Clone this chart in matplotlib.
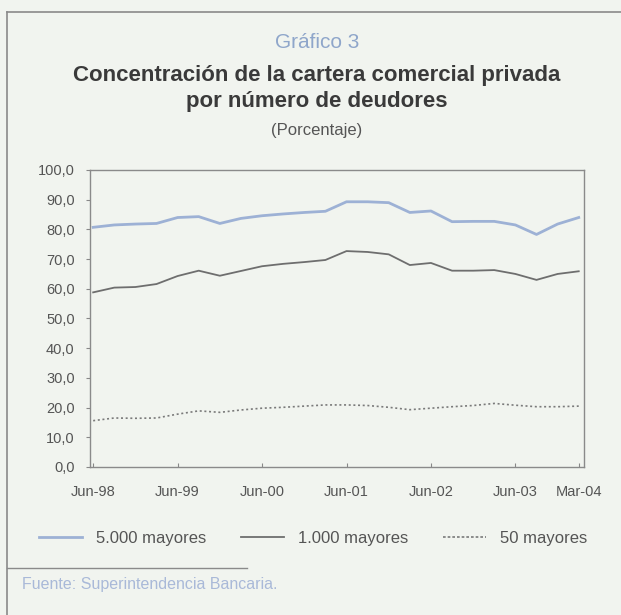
import matplotlib
matplotlib.use("Agg")
import matplotlib.pyplot as plt
from matplotlib.lines import Line2D

# ---- data (quarterly, Jun-98 .. Mar-04) ----
periods = ["Jun-98", "Sep-98", "Dec-98", "Mar-99", "Jun-99", "Sep-99", "Dec-99", "Mar-00",
           "Jun-00", "Sep-00", "Dec-00", "Mar-01", "Jun-01", "Sep-01", "Dec-01", "Mar-02",
           "Jun-02", "Sep-02", "Dec-02", "Mar-03", "Jun-03", "Sep-03", "Dec-03", "Mar-04"]
may_5000 = [80.7, 81.5, 81.8, 82.0, 84.0, 84.3, 82.0, 83.7, 84.6, 85.2, 85.7, 86.1,
            89.3, 89.3, 89.0, 85.7, 86.2, 82.6, 82.7, 82.7, 81.5, 78.3, 81.8, 84.0]
may_1000 = [58.8, 60.4, 60.6, 61.6, 64.3, 66.1, 64.4, 66.0, 67.6, 68.4, 69.0, 69.7,
            72.7, 72.4, 71.6, 68.0, 68.7, 66.1, 66.1, 66.3, 65.0, 63.0, 65.0, 65.9]
may_50 = [15.6, 16.5, 16.4, 16.5, 17.8, 18.9, 18.4, 19.2, 19.8, 20.1, 20.5, 20.9,
          20.9, 20.7, 20.1, 19.3, 19.8, 20.3, 20.7, 21.4, 20.8, 20.3, 20.3, 20.5]
tick_labels = ["Jun-98", "Jun-99", "Jun-00", "Jun-01", "Jun-02", "Jun-03", "Mar-04"]
series_names = ["5.000 mayores", "1.000 mayores", "50 mayores"]

W, H = 621, 615
BG = "#f1f4ef"
regular = ["Liberation Sans", "DejaVu Sans"]

fig = plt.figure(figsize=(W / 100, H / 100), dpi=100, facecolor=BG)

def fx(px):
    return px / W

def fy(py):
    return 1 - py / H

ax = fig.add_axes([fx(90), fy(467), fx(584) - fx(90), fy(170) - fy(467)])
ax.set_facecolor(BG)

x = list(range(len(periods)))
ax.plot(x, may_5000, color="#9db1d5", lw=2.0, solid_joinstyle="round")
ax.plot(x, may_1000, color="#6e6e6e", lw=1.3)
ax.plot(x, may_50, color="#7a7a7a", lw=1.2, linestyle=(0, (1.2, 1.6)))

ax.set_ylim(0, 100)
ax.set_xlim(-0.15, len(periods) - 1 + 0.25)
ax.set_yticks(range(0, 101, 10))
ax.set_yticklabels([f"{v},0" for v in range(0, 101, 10)], family=regular, fontsize=10.5, color="#555555")
tick_pos = [periods.index(t) for t in tick_labels]
ax.set_xticks(tick_pos)
ax.set_xticklabels(tick_labels, family=regular, fontsize=10.5, color="#555555")
ax.tick_params(axis="y", direction="out", length=3, pad=8, color="#888888", width=0.8)
ax.tick_params(axis="x", direction="in", length=3, pad=13, color="#888888", width=0.8)
for s in ax.spines.values():
    s.set_color("#8a8a8a")
    s.set_linewidth(1.0)

# titles
fig.text(0.51, fy(43), "Gráfico 3", ha="center", va="center", family=regular,
         fontsize=15, color="#8fa6ca")
fig.text(0.51, fy(76), "Concentración de la cartera comercial privada",
         ha="center", va="center", family=regular, fontsize=16, fontweight="bold",
         color="#3a3a3a")
fig.text(0.51, fy(101), "por número de deudores",
         ha="center", va="center", family=regular, fontsize=16, fontweight="bold",
         color="#3a3a3a")
fig.text(0.51, fy(130), "(Porcentaje)", ha="center", va="center", family=regular,
         fontsize=12, color="#555555")

# legend
handles = [Line2D([], [], color="#9db1d5", lw=2.0),
           Line2D([], [], color="#6e6e6e", lw=1.3),
           Line2D([], [], color="#7a7a7a", lw=1.2, linestyle=(0, (1.6, 1.2)))]
leg = fig.legend(handles, series_names, loc="center", bbox_to_anchor=(fx(313), fy(538)),
                 ncol=3, frameon=False, handlelength=2.6, columnspacing=2.1,
                 handletextpad=0.8, prop={"family": regular, "size": 12})
for t in leg.get_texts():
    t.set_color("#555555")

# frame lines
fig.add_artist(Line2D([fx(7), 1.0], [fy(12), fy(12)], color="#8a8a8a", lw=1.2))
fig.add_artist(Line2D([fx(7), fx(7)], [fy(12), 0.0], color="#8a8a8a", lw=1.2))
fig.add_artist(Line2D([fx(7), fx(247)], [fy(568), fy(568)], color="#8a8a8a", lw=1.0))

fig.text(fx(22), fy(584), "Fuente: Superintendencia Bancaria.", ha="left", va="center",
         family=regular, fontsize=11.5, color="#a9b9d8")

fig.savefig("out.png", dpi=100, facecolor=BG)
